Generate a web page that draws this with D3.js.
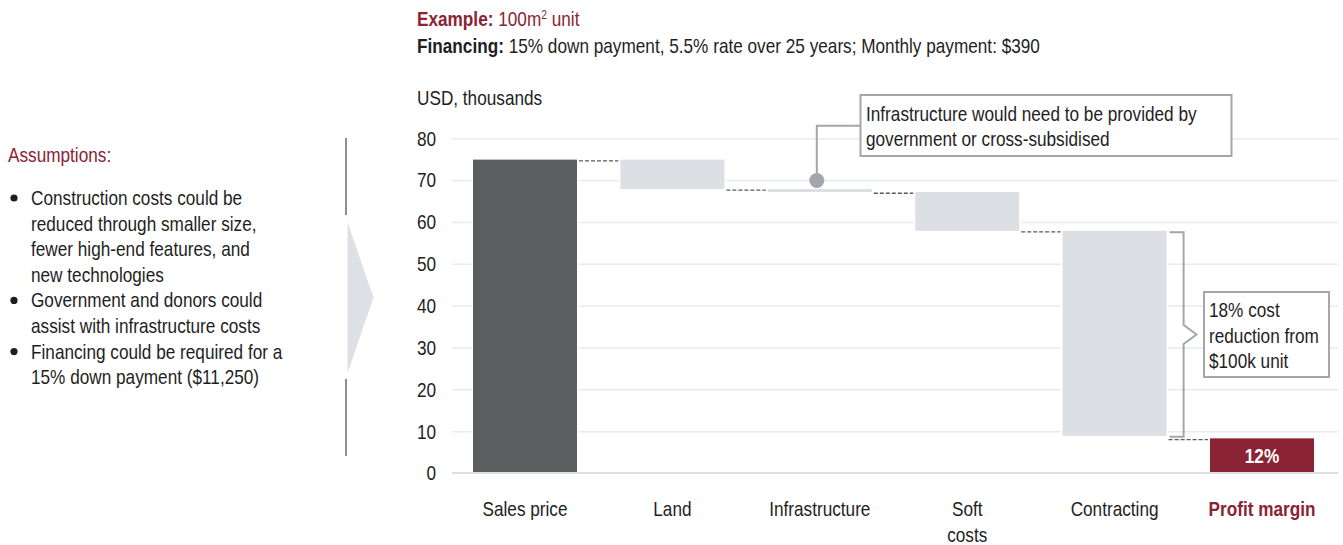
<!DOCTYPE html>
<html>
<head>
<meta charset="utf-8">
<script src="https://cdn.jsdelivr.net/npm/d3@7"></script>
<style>
  html, body { margin: 0; padding: 0; background: #fff; }
  svg { display: block; font-family: "Liberation Sans", Arial, sans-serif; }
</style>
</head>
<body>
<svg id="chart" width="1343" height="545"></svg>
<script>
// ---------- data ----------
const categories = ["Sales price", "Land", "Infrastructure", "Soft costs", "Contracting", "Profit margin"];
const categoryLines = [["Sales price"], ["Land"], ["Infrastructure"], ["Soft", "costs"], ["Contracting"], ["Profit margin"]];
const salesPrice = 75;
const costSteps = [7, 0.75, 9.25, 49];      // Land, Infrastructure, Soft costs, Contracting
const profitMargin = 8.4;
const profitLabel = "12%";
const yTicks = [0, 10, 20, 30, 40, 50, 60, 70, 80];
const assumptionsTitle = "Assumptions:";
const assumptions = [
  ["Construction costs could be", "reduced through smaller size,", "fewer high-end features, and", "new technologies"],
  ["Government and donors could", "assist with infrastructure costs"],
  ["Financing could be required for a", "15% down payment ($11,250)"]
];
const note1 = ["Infrastructure would need to be provided by", "government or cross-subsidised"];
const note2 = ["18% cost", "reduction from", "$100k unit"];

// ---------- style ----------
const MAROON = "#8a2333", DARK = "#5d5e60", LIGHT = "#dce0e4", GRID = "#e8eaed", TEXT = "#1e1e1e", ANNO = "#a3a7ab";
const FS = 20, SX = 0.86;

const svg = d3.select("#chart");

// condensed text helper (horizontal scale to mimic a narrow face)
function T(parent, x, y, str, fill = TEXT) {
  const t = parent.append("text")
    .attr("transform", `translate(${x},${y}) scale(${SX},1)`)
    .attr("font-size", FS).attr("fill", fill);
  if (str !== null) t.text(str);
  return t;
}

const x = d3.scaleBand().domain(categories).range([452, 1335]).paddingInner(0.2944).paddingOuter(0.1425);
const y = d3.scaleLinear().domain([0, 80]).range([473.5, 138.7]);

// build waterfall segments
const segs = [];
segs.push({cat: categories[0], y0: 0, y1: salesPrice, fill: DARK});
let level = salesPrice;
costSteps.forEach((v, i) => {
  segs.push({cat: categories[i + 1], y0: level - v, y1: level, fill: LIGHT});
  level -= v;
});
segs.push({cat: categories[5], y0: 0, y1: profitMargin, fill: MAROON});

// ---------- header ----------
const h1 = T(svg, 417, 26, null, MAROON);
h1.append("tspan").attr("font-weight", "bold").text("Example: ");
h1.append("tspan").text("100m");
h1.append("tspan").attr("font-size", 12).attr("dy", -7).text("2");
h1.append("tspan").attr("dy", 7).text(" unit");
const h2 = T(svg, 417, 53, null);
h2.append("tspan").attr("font-weight", "bold").text("Financing: ");
h2.append("tspan").text("15% down payment, 5.5% rate over 25 years; Monthly payment: $390");
T(svg, 417, 105, "USD, thousands");

// ---------- left panel ----------
T(svg, 8, 162, assumptionsTitle, MAROON);
let ly = 205;
assumptions.forEach(lines => {
  svg.append("circle").attr("cx", 14).attr("cy", ly - 7).attr("r", 3.6).attr("fill", TEXT);
  lines.forEach(t => {
    T(svg, 31, ly, t);
    ly += 25.6;
  });
});
// divider + chevron
svg.append("line").attr("x1", 346).attr("x2", 346).attr("y1", 138).attr("y2", 215).attr("stroke", "#8e8e8e").attr("stroke-width", 2);
svg.append("line").attr("x1", 346).attr("x2", 346).attr("y1", 379).attr("y2", 456).attr("stroke", "#8e8e8e").attr("stroke-width", 2);
svg.append("path").attr("d", "M347.5,222 L373.5,297.5 L347.5,373 Z").attr("fill", "#dde1e5");

// ---------- gridlines ----------
const gridX0 = 452, gridX1 = 1338;
svg.append("g").selectAll("line").data(yTicks.filter(d => d > 0)).join("line")
  .attr("x1", gridX0).attr("x2", gridX1)
  .attr("y1", d => y(d)).attr("y2", d => y(d))
  .attr("stroke", GRID).attr("stroke-width", 1.5);

// y-axis labels via d3 axis
const yAxis = svg.append("g").attr("transform", "translate(436,0)")
  .call(d3.axisLeft(y).tickValues(yTicks).tickSize(0).tickPadding(0));
yAxis.select(".domain").remove();
yAxis.selectAll("text").attr("font-size", FS).attr("fill", TEXT).attr("font-family", null)
  .attr("x", 0).attr("transform", `scale(${SX},1)`);

// ---------- bars ----------
svg.append("g").selectAll("rect").data(segs).join("rect")
  .attr("x", d => x(d.cat))
  .attr("width", x.bandwidth())
  .attr("y", d => y(d.y1))
  .attr("height", d => Math.max(y(d.y0) - y(d.y1), 1))
  .attr("fill", d => d.fill)
  .attr("stroke", "#fff").attr("stroke-width", 3)
  .attr("paint-order", "stroke");

// baseline
svg.append("line").attr("x1", gridX0).attr("x2", gridX1).attr("y1", y(0) - 0.5).attr("y2", y(0) - 0.5)
  .attr("stroke", "#dcdfe2").attr("stroke-width", 2);

// connectors
const conn = [];
for (let i = 0; i < segs.length - 1; i++) {
  const a = segs[i], b = segs[i + 1];
  const lv = (i === segs.length - 2) ? b.y1 : (i === 0 ? a.y1 : a.y0);
  conn.push({x1: x(a.cat) + x.bandwidth() + 2, x2: x(b.cat) - 2, v: lv});
}
svg.append("g").selectAll("line").data(conn).join("line")
  .attr("x1", d => d.x1).attr("x2", d => d.x2)
  .attr("y1", d => y(d.v) + 1.2).attr("y2", d => y(d.v) + 1.2)
  .attr("stroke", "#5a5a5a").attr("stroke-width", 1.3).attr("stroke-dasharray", "4,2");

// profit label
T(svg, x(categories[5]) + x.bandwidth() / 2, (y(profitMargin) + y(0)) / 2 + 7, profitLabel, "#fff")
  .attr("text-anchor", "middle").attr("font-weight", "bold");

// category labels
categories.forEach((c, i) => {
  const t = T(svg, x(c) + x.bandwidth() / 2, 516, null, i === 5 ? MAROON : TEXT)
    .attr("text-anchor", "middle")
    .attr("font-weight", i === 5 ? "bold" : "normal");
  t.selectAll("tspan").data(categoryLines[i]).join("tspan")
    .attr("x", 0).attr("dy", (s, j) => j === 0 ? 0 : 26).text(s => s);
});

// ---------- annotation 1 (infrastructure) ----------
const infraCx = x(categories[2]) + x.bandwidth() / 2 - 3;
svg.append("path").attr("d", `M${infraCx},${y(70)} L${infraCx},125.7 L861,125.7`)
  .attr("fill", "none").attr("stroke", ANNO).attr("stroke-width", 2);
svg.append("circle").attr("cx", infraCx).attr("cy", y(70)).attr("r", 7.5).attr("fill", ANNO);
svg.append("rect").attr("x", 860.5).attr("y", 95).attr("width", 371).attr("height", 61)
  .attr("fill", "#fff").attr("stroke", ANNO).attr("stroke-width", 2);
note1.forEach((s, i) => T(svg, 866, 120.5 + i * 25, s));

// ---------- annotation 2 (bracket) ----------
const cSeg = segs[4];
const bx0 = x(cSeg.cat) + x.bandwidth() + 3, bx = bx0 + 14;
const bTop = y(cSeg.y1) + 1.5, bBot = y(cSeg.y0) + 1;
const bMid = (bTop + bBot) / 2;
svg.append("path")
  .attr("d", `M${bx0},${bTop} L${bx},${bTop} L${bx},${bMid - 9.5} L${bx + 13},${bMid} L${bx},${bMid + 9.5} L${bx},${bBot} L${bx0},${bBot}`)
  .attr("fill", "none").attr("stroke", ANNO).attr("stroke-width", 2);
svg.append("rect").attr("x", 1204).attr("y", 292).attr("width", 125).attr("height", 85)
  .attr("fill", "#fff").attr("stroke", ANNO).attr("stroke-width", 2);
note2.forEach((s, i) => T(svg, 1209, 317 + i * 25.5, s));
</script>
</body>
</html>
